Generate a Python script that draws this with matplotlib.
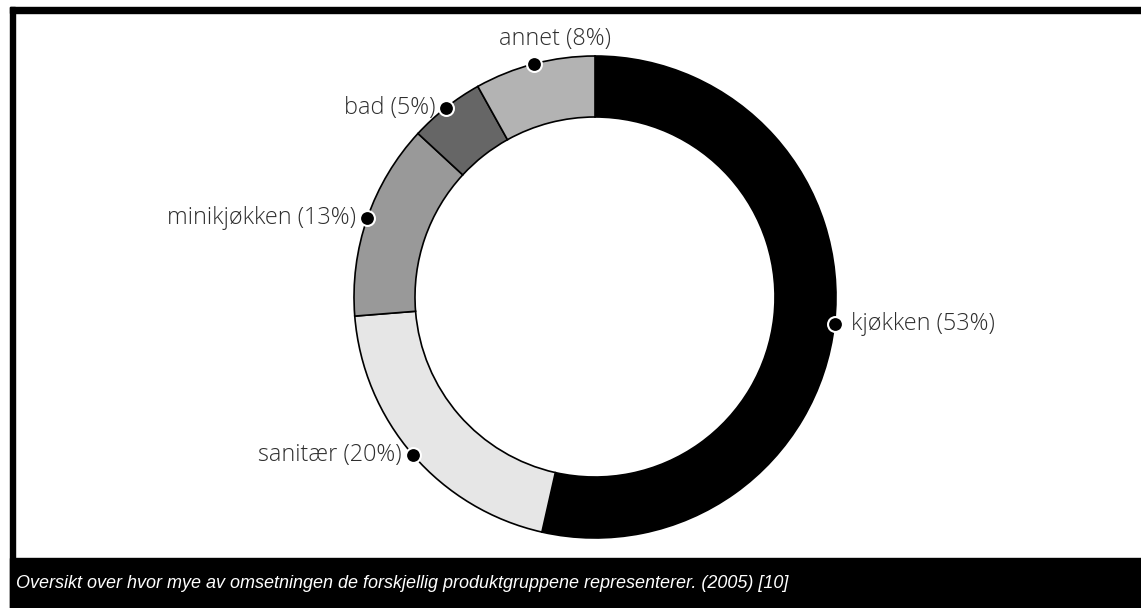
import numpy as np
import matplotlib.pyplot as plt
from matplotlib.patches import Rectangle

# Product groups, share of turnover (2005)
groups = ["kjøkken", "sanitær", "minikjøkken", "bad", "annet"]
shares = [53, 20, 13, 5, 8]
colors = ["#000000", "#e6e6e6", "#999999", "#666666", "#b3b3b3"]
caption = "Oversikt over hvor mye av omsetningen de forskjellig produktgruppene representerer. (2005) [10]"

W, H = 1141, 608
fig = plt.figure(figsize=(W / 100, H / 100), dpi=100)
ax = fig.add_axes([0, 0, 1, 1])

cx, cy = 595, H - 297   # donut centre (pixel coords, y up)
r_out, ring = 241, 61

# frame: top + left black border, black caption bar at bottom
ax.add_patch(Rectangle((10, H - 13), W - 10, 6, color="black", zorder=0))
ax.add_patch(Rectangle((10, 0), 5, H - 7, color="black", zorder=0))
ax.add_patch(Rectangle((10, 0), W - 10, H - 558, color="black", zorder=0))
ax.text(16, H - 584, caption, color="white", fontsize=13, style="italic",
        family="Liberation Sans", va="center", ha="left")

ax.pie(shares, colors=colors, startangle=90, counterclock=False,
       center=(cx, cy), radius=r_out,
       wedgeprops=dict(width=ring, edgecolor="black", linewidth=1.2))

# dots at wedge mid-angles + labels
total = sum(shares)
cum = np.cumsum([0] + shares[:-1])
mid = np.radians(90 - 360 * (cum + np.array(shares) / 2) / total)
dx = cx + r_out * np.cos(mid)
dy = cy + r_out * np.sin(mid)
ax.scatter(dx, dy, s=115, color="black", edgecolor="white", linewidth=1.5, zorder=5)

offsets = [(16, 0, "left"), (-11, 0, "right"), (-11, 0, "right"),
           (-11, 0, "right"), (21, 25, "center")]
for g, s, x, y, (ox, oy, ha) in zip(groups, shares, dx, dy, offsets):
    ax.text(x + ox, y + oy, f"{g} ({s}%)", ha=ha, va="center",
            fontsize=16.8, color="#2e2e2e", family="Open Sans", fontweight="light")

ax.set_xlim(0, W)
ax.set_ylim(0, H)
ax.set_aspect("auto")
ax.axis("off")
fig.savefig("out.png", dpi=100, facecolor="white")
